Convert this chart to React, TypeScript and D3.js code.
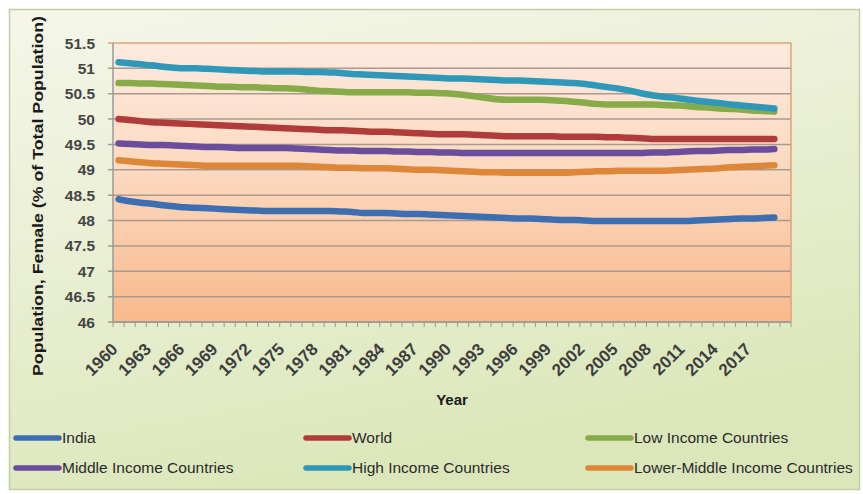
import React from "react";
import * as d3 from "d3";

// Years on the category axis (the last slot, 2020, has no data)
const categories: number[] = d3.range(1960, 2021);
const dataYears: number[] = d3.range(1960, 2020);

const india: number[] = [
  48.42, 48.38, 48.35, 48.33, 48.30, 48.28, 48.26, 48.25, 48.24, 48.23,
  48.22, 48.21, 48.20, 48.19, 48.19, 48.19, 48.19, 48.19, 48.19, 48.19,
  48.18, 48.17, 48.15, 48.15, 48.15, 48.14, 48.13, 48.13, 48.12, 48.11,
  48.10, 48.09, 48.08, 48.07, 48.06, 48.05, 48.04, 48.04, 48.03, 48.02,
  48.01, 48.01, 48.00, 47.99, 47.99, 47.99, 47.99, 47.99, 47.99, 47.99,
  47.99, 47.99, 48.00, 48.01, 48.02, 48.03, 48.04, 48.04, 48.05, 48.06,
];
const world: number[] = [
  50.00, 49.98, 49.96, 49.94, 49.93, 49.92, 49.91, 49.90, 49.89, 49.88,
  49.87, 49.86, 49.85, 49.84, 49.83, 49.82, 49.81, 49.80, 49.79, 49.78,
  49.78, 49.77, 49.76, 49.75, 49.75, 49.74, 49.73, 49.72, 49.71, 49.70,
  49.70, 49.70, 49.69, 49.68, 49.67, 49.66, 49.66, 49.66, 49.66, 49.66,
  49.65, 49.65, 49.65, 49.65, 49.64, 49.64, 49.63, 49.62, 49.61, 49.61,
  49.61, 49.61, 49.61, 49.61, 49.61, 49.61, 49.61, 49.61, 49.61, 49.61,
];
const lowIncome: number[] = [
  50.71, 50.71, 50.70, 50.70, 50.69, 50.68, 50.67, 50.66, 50.65, 50.64,
  50.64, 50.63, 50.63, 50.62, 50.61, 50.61, 50.60, 50.58, 50.56, 50.55,
  50.54, 50.53, 50.53, 50.53, 50.53, 50.53, 50.53, 50.52, 50.52, 50.51,
  50.50, 50.48, 50.45, 50.42, 50.39, 50.38, 50.38, 50.38, 50.38, 50.37,
  50.36, 50.34, 50.32, 50.30, 50.29, 50.29, 50.29, 50.29, 50.29, 50.28,
  50.27, 50.26, 50.24, 50.23, 50.21, 50.20, 50.19, 50.17, 50.16, 50.15,
];
const middleIncome: number[] = [
  49.52, 49.51, 49.50, 49.49, 49.49, 49.48, 49.47, 49.46, 49.45, 49.45,
  49.44, 49.43, 49.43, 49.43, 49.43, 49.43, 49.42, 49.41, 49.40, 49.39,
  49.38, 49.38, 49.37, 49.37, 49.37, 49.36, 49.36, 49.35, 49.35, 49.34,
  49.34, 49.33, 49.33, 49.33, 49.33, 49.33, 49.33, 49.33, 49.33, 49.33,
  49.33, 49.33, 49.33, 49.33, 49.33, 49.33, 49.33, 49.33, 49.34, 49.34,
  49.35, 49.36, 49.37, 49.37, 49.38, 49.39, 49.39, 49.40, 49.40, 49.41,
];
const highIncome: number[] = [
  51.12, 51.10, 51.08, 51.06, 51.03, 51.01, 51.00, 51.00, 50.99, 50.98,
  50.97, 50.96, 50.95, 50.94, 50.94, 50.94, 50.94, 50.93, 50.93, 50.92,
  50.91, 50.89, 50.88, 50.87, 50.86, 50.85, 50.84, 50.83, 50.82, 50.81,
  50.80, 50.80, 50.79, 50.78, 50.77, 50.76, 50.76, 50.75, 50.74, 50.73,
  50.72, 50.71, 50.69, 50.66, 50.63, 50.60, 50.56, 50.51, 50.47, 50.44,
  50.42, 50.39, 50.36, 50.34, 50.32, 50.29, 50.27, 50.25, 50.23, 50.21,
];
const lowerMiddleIncome: number[] = [
  49.19, 49.17, 49.15, 49.13, 49.12, 49.11, 49.10, 49.09, 49.08, 49.08,
  49.08, 49.08, 49.08, 49.08, 49.08, 49.08, 49.08, 49.07, 49.06, 49.05,
  49.04, 49.04, 49.03, 49.03, 49.03, 49.02, 49.01, 49.00, 49.00, 48.99,
  48.98, 48.97, 48.96, 48.95, 48.95, 48.94, 48.94, 48.94, 48.94, 48.94,
  48.94, 48.95, 48.96, 48.97, 48.97, 48.98, 48.98, 48.98, 48.98, 48.98,
  48.99, 49.00, 49.01, 49.02, 49.03, 49.05, 49.06, 49.07, 49.08, 49.09,
];

const yTicks: number[] = d3.range(46, 51.51, 0.5);
const xLabelYears: number[] = d3.range(1960, 2018, 3);

const seriesNames: string[] = [
  "India",
  "World",
  "Low Income Countries",
  "Middle Income Countries",
  "High Income Countries",
  "Lower-Middle Income Countries",
];
const seriesValues: number[][] = [india, world, lowIncome, middleIncome, highIncome, lowerMiddleIncome];
const seriesColors: string[] = ["#3c6eb1", "#b03c39", "#87ab48", "#6a4d9c", "#2f98b8", "#df8739"];

const W = 863;
const H = 494;
const plot = { left: 113, right: 791, top: 43, bottom: 322 };
const FONT = "'Liberation Sans', Arial, sans-serif";

export default function App() {
  const x = d3
    .scaleBand<number>()
    .domain(categories)
    .range([plot.left, plot.right])
    .paddingInner(0)
    .paddingOuter(0);
  const cx = (yr: number) => (x(yr) as number) + x.bandwidth() / 2;
  const y = d3.scaleLinear().domain([46, 51.5]).range([plot.bottom, plot.top]);

  const line = d3
    .line<number>()
    .x((_, i) => cx(dataYears[i]))
    .y((v) => y(v))
    .curve(d3.curveMonotoneX);

  const tickEdges = d3.range(categories.length + 1).map((i) => plot.left + i * x.bandwidth());

  const legendCols = [16, 306, 588];
  const legendRows = [438, 468];

  return (
    <svg
      width={W}
      height={H}
      style={{ position: "absolute", left: 0, top: 0, background: "#ffffff" }}
      fontFamily={FONT}
    >
      <defs>
        <linearGradient id="outerBg" x1="0" y1="0" x2="0.35" y2="1">
          <stop offset="0" stopColor="#f5f6e8" />
          <stop offset="0.5" stopColor="#e9efd3" />
          <stop offset="1" stopColor="#dbe7ba" />
        </linearGradient>
        <linearGradient id="plotBg" x1="0" y1="0" x2="0" y2="1">
          <stop offset="0" stopColor="#fdeadf" />
          <stop offset="0.45" stopColor="#fcd9c0" />
          <stop offset="1" stopColor="#f8b98b" />
        </linearGradient>
      </defs>

      {/* chart frame */}
      <rect x={9.5} y={9.5} width={850} height={480} fill="url(#outerBg)" stroke="#c3cea3" strokeWidth={1.5} />

      {/* plot area */}
      <rect
        x={plot.left}
        y={plot.top}
        width={plot.right - plot.left}
        height={plot.bottom - plot.top}
        fill="url(#plotBg)"
      />

      {/* gridlines */}
      {yTicks.map((t) => (
        <line
          key={"g" + t}
          x1={plot.left - 5}
          x2={plot.right}
          y1={y(t)}
          y2={y(t)}
          stroke={t === 51.5 ? "#e3a274" : "#a99a8f"}
          strokeWidth={1.5}
        />
      ))}

      {/* plot border on the right */}
      <line x1={plot.right} x2={plot.right} y1={plot.top} y2={plot.bottom} stroke="#e3a274" strokeWidth={1.5} />

      {/* value axis */}
      <line x1={plot.left} x2={plot.left} y1={plot.top} y2={plot.bottom} stroke="#9a9a9a" strokeWidth={1.5} />
      {yTicks.map((t) => (
        <text
          key={"yl" + t}
          x={plot.left - 18}
          y={y(t)}
          dy="0.36em"
          textAnchor="end"
          fontSize={15.5}
          fontWeight="bold"
          fill="#454545"
        >
          {t}
        </text>
      ))}

      {/* category axis */}
      <line x1={plot.left} x2={plot.right} y1={plot.bottom} y2={plot.bottom} stroke="#9a9a9a" strokeWidth={1.5} />
      {tickEdges.map((tx, i) => (
        <line key={"xt" + i} x1={tx} x2={tx} y1={plot.bottom} y2={plot.bottom + 5} stroke="#9a9a9a" strokeWidth={1} />
      ))}
      {xLabelYears.map((yr) => (
        <text
          key={"xl" + yr}
          transform={`translate(${cx(yr) - 4},${plot.bottom + 24}) rotate(-45)`}
          textAnchor="end"
          dy="0.35em"
          fontSize={17}
          fontWeight="bold"
          fill="#3e3e3e"
        >
          {yr}
        </text>
      ))}

      {/* series lines */}
      {seriesValues.map((vals, si) => (
        <path
          key={"s" + si}
          d={line(vals) as string}
          fill="none"
          stroke={seriesColors[si]}
          strokeWidth={6.5}
          strokeLinecap="round"
          strokeLinejoin="round"
        />
      ))}

      {/* axis titles */}
      <text
        transform={`translate(43,196) rotate(-90)`}
        textAnchor="middle"
        fontSize={15}
        fontWeight="bold"
        fill="#1a1a1a"
        textLength={360}
        lengthAdjust="spacingAndGlyphs"
      >
        Population, Female (% of Total Population)
      </text>
      <text
        x={(plot.left + plot.right) / 2}
        y={405}
        textAnchor="middle"
        fontSize={15}
        fontWeight="bold"
        fill="#1a1a1a"
      >
        Year
      </text>

      {/* legend */}
      {seriesNames.map((name, i) => {
        const lx = legendCols[i % 3];
        const ly = legendRows[Math.floor(i / 3)];
        return (
          <g key={"lg" + i}>
            <line x1={lx} x2={lx + 43} y1={ly} y2={ly} stroke={seriesColors[i]} strokeWidth={5.5} strokeLinecap="round" />
            <text x={lx + 46} y={ly} dy="0.35em" fontSize={15.5} fill="#2a2a2a">
              {name}
            </text>
          </g>
        );
      })}
    </svg>
  );
}
